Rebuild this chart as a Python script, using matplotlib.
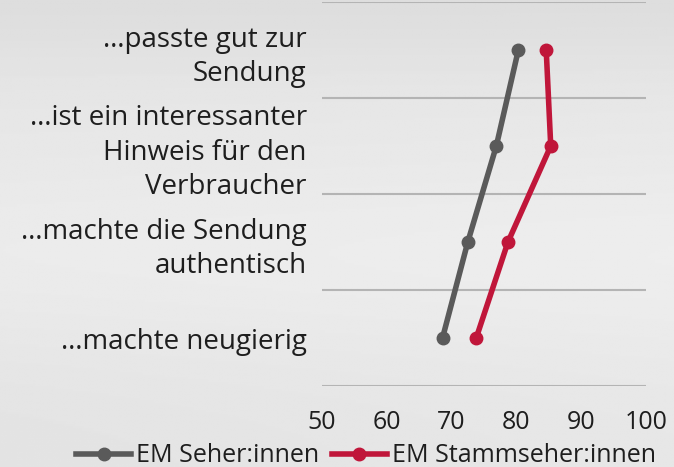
import matplotlib

matplotlib.use("Agg")
import matplotlib.pyplot as plt
import numpy as np
from matplotlib.lines import Line2D

categories = [
    "…passte gut zur\nSendung",
    "…ist ein interessanter\nHinweis für den\nVerbraucher",
    "…machte die Sendung\nauthentisch",
    "…machte neugierig",
]
seher = [80.3, 76.9, 72.5, 68.6]
stammseher = [84.6, 85.3, 78.7, 73.8]
series_names = ["EM Seher:innen", "EM Stammseher:innen"]
x_ticks = [50, 60, 70, 80, 90, 100]

GRAY = "#5a5a5a"
RED = "#c0163a"
TEXT = "#1e1e1e"

plt.rcParams["font.family"] = ["Open Sans", "DejaVu Sans"]

fig = plt.figure(figsize=(6.74, 4.67), dpi=100)

# soft grey backdrop
bg = fig.add_axes([0, 0, 1, 1], zorder=-10)
yy, xx = np.mgrid[0:1:200j, 0:1:300j]
shade = 0.905 - 0.035 * np.exp(-((yy - 0.0) ** 2) / 0.02) + 0.025 * np.exp(-((yy - 0.55) ** 2) / 0.05) \
    - 0.015 * (1 - xx) * yy
bg.imshow(shade, cmap="gray", vmin=0, vmax=1, aspect="auto", extent=[0, 1, 0, 1])
bg.axis("off")

ax = fig.add_axes([322 / 674, 1 - 386 / 467, 324 / 674, 384 / 467])
ax.set_facecolor("none")

n = len(categories)
ypos = np.arange(n)[::-1] + 0.5  # top category first

ax.plot(seher, ypos, color=GRAY, lw=4, marker="o", ms=9, solid_capstyle="round")
ax.plot(stammseher, ypos, color=RED, lw=4, marker="o", ms=9, solid_capstyle="round")

ax.set_xlim(50, 100)
ax.set_ylim(0, n)
ax.set_yticks(ypos)
ax.set_yticklabels(categories, fontsize=20, color=TEXT, linespacing=1.3, ha="right")
ax.set_xticks(x_ticks)
ax.set_xticklabels([str(t) for t in x_ticks], fontsize=18, color=TEXT)
ax.tick_params(axis="both", length=0)
ax.tick_params(axis="y", pad=11)
ax.tick_params(axis="x", pad=17)
for y in range(n + 1):
    ax.axhline(y, color="#b4b4b4", lw=1.5, zorder=0)
for s in ax.spines.values():
    s.set_visible(False)

handles = [
    Line2D([], [], color=GRAY, lw=4, marker="o", ms=9),
    Line2D([], [], color=RED, lw=4, marker="o", ms=9),
]
fig.legend(handles, series_names, loc="center left", bbox_to_anchor=(66 / 674, 1 - 456 / 467),
           ncol=2, frameon=False, fontsize=18, handlelength=2.2, handletextpad=0.2,
           columnspacing=0.5, labelcolor=TEXT, borderaxespad=0)

fig.savefig("out.png", dpi=100)
